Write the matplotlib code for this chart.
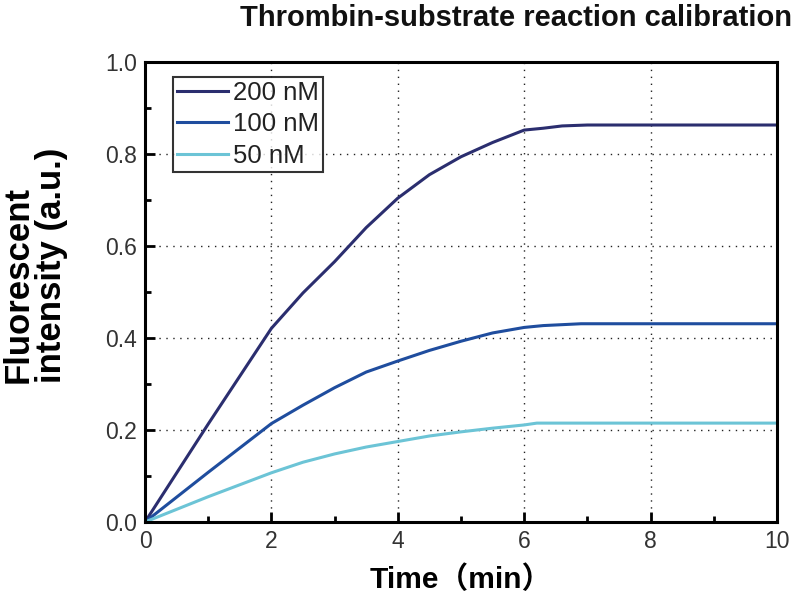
import matplotlib
matplotlib.use("Agg")
import matplotlib.pyplot as plt
from matplotlib.ticker import MultipleLocator

# Data
time_200 = [0, 1, 2, 2.5, 3, 3.5, 4, 4.5, 5, 5.5, 6, 6.3, 6.6, 7, 10]
val_200 = [0.0, 0.213, 0.421, 0.498, 0.566, 0.640, 0.704, 0.755, 0.794, 0.825, 0.852,
           0.856, 0.861, 0.863, 0.863]

time_100 = [0, 1, 2, 2.5, 3, 3.5, 4, 4.5, 5, 5.5, 6, 6.3, 6.9, 10]
val_100 = [0.0, 0.108, 0.214, 0.254, 0.292, 0.326, 0.350, 0.373, 0.393, 0.411, 0.423,
           0.427, 0.431, 0.431]

time_50 = [0, 1, 2, 2.5, 3, 3.5, 4, 4.5, 5, 5.5, 6, 6.2, 10]
val_50 = [0.0, 0.055, 0.107, 0.130, 0.148, 0.163, 0.175, 0.187, 0.196, 0.204, 0.211,
          0.215, 0.215]

labels = ["200 nM", "100 nM", "50 nM"]
colors = ["#2b2e6f", "#1f4d9e", "#6cc4d6"]

plt.rcParams["font.family"] = ["Liberation Sans", "DejaVu Sans"]

fig = plt.figure(figsize=(8.0, 6.03), dpi=100)
ax = fig.add_axes([0.18125, 0.1343, 0.79, 0.7629])

ax.plot(time_200, val_200, color=colors[0], lw=2.2, label=labels[0])
ax.plot(time_100, val_100, color=colors[1], lw=2.2, label=labels[1])
ax.plot(time_50, val_50, color=colors[2], lw=2.2, label=labels[2])

ax.set_xlim(0, 10)
ax.set_ylim(0, 1.0)
ax.xaxis.set_major_locator(MultipleLocator(2))
ax.xaxis.set_minor_locator(MultipleLocator(1))
ax.yaxis.set_minor_locator(MultipleLocator(0.1))
ax.set_yticks([0, 0.2, 0.4, 0.6, 0.8, 1.0])
ax.set_yticklabels(["0.0", "0.2", "0.4", "0.6", "0.8", "1.0"])

ax.grid(True, which="major", linestyle=(0, (1, 4)), color="#222222", lw=1.0)
ax.tick_params(which="major", direction="in", length=7, width=2, labelsize=16.5, pad=6,
               labelcolor="#333333")
ax.tick_params(which="minor", direction="in", length=4, width=2)
for s in ax.spines.values():
    s.set_linewidth(2.2)

leg = ax.legend(loc="upper left", bbox_to_anchor=(0.044, 0.968), frameon=True, fancybox=False,
                edgecolor="black", fontsize=18.5, handlelength=2.0, handletextpad=0.2,
                labelspacing=0.3, borderpad=0.15, borderaxespad=0)
leg.get_frame().set_linewidth(1.5)
for t in leg.get_texts():
    t.set_color("#222222")

fig.text(0.645, 0.993, "Thrombin-substrate reaction calibration", ha="center", va="top",
         fontsize=21, fontweight="bold", color="#111111")
ax.set_xlabel("Time（min）", fontsize=21.5, fontweight="bold",
              family=["Liberation Sans", "Noto Sans CJK SC", "DejaVu Sans"], labelpad=9)
ax.set_ylabel("Fluorescent\nintensity (a.u.)", fontsize=25, fontweight="bold",
              linespacing=1.0, multialignment="left")
ax.yaxis.set_label_coords(-0.122, 0.559)

fig.savefig("out.png", dpi=100)
